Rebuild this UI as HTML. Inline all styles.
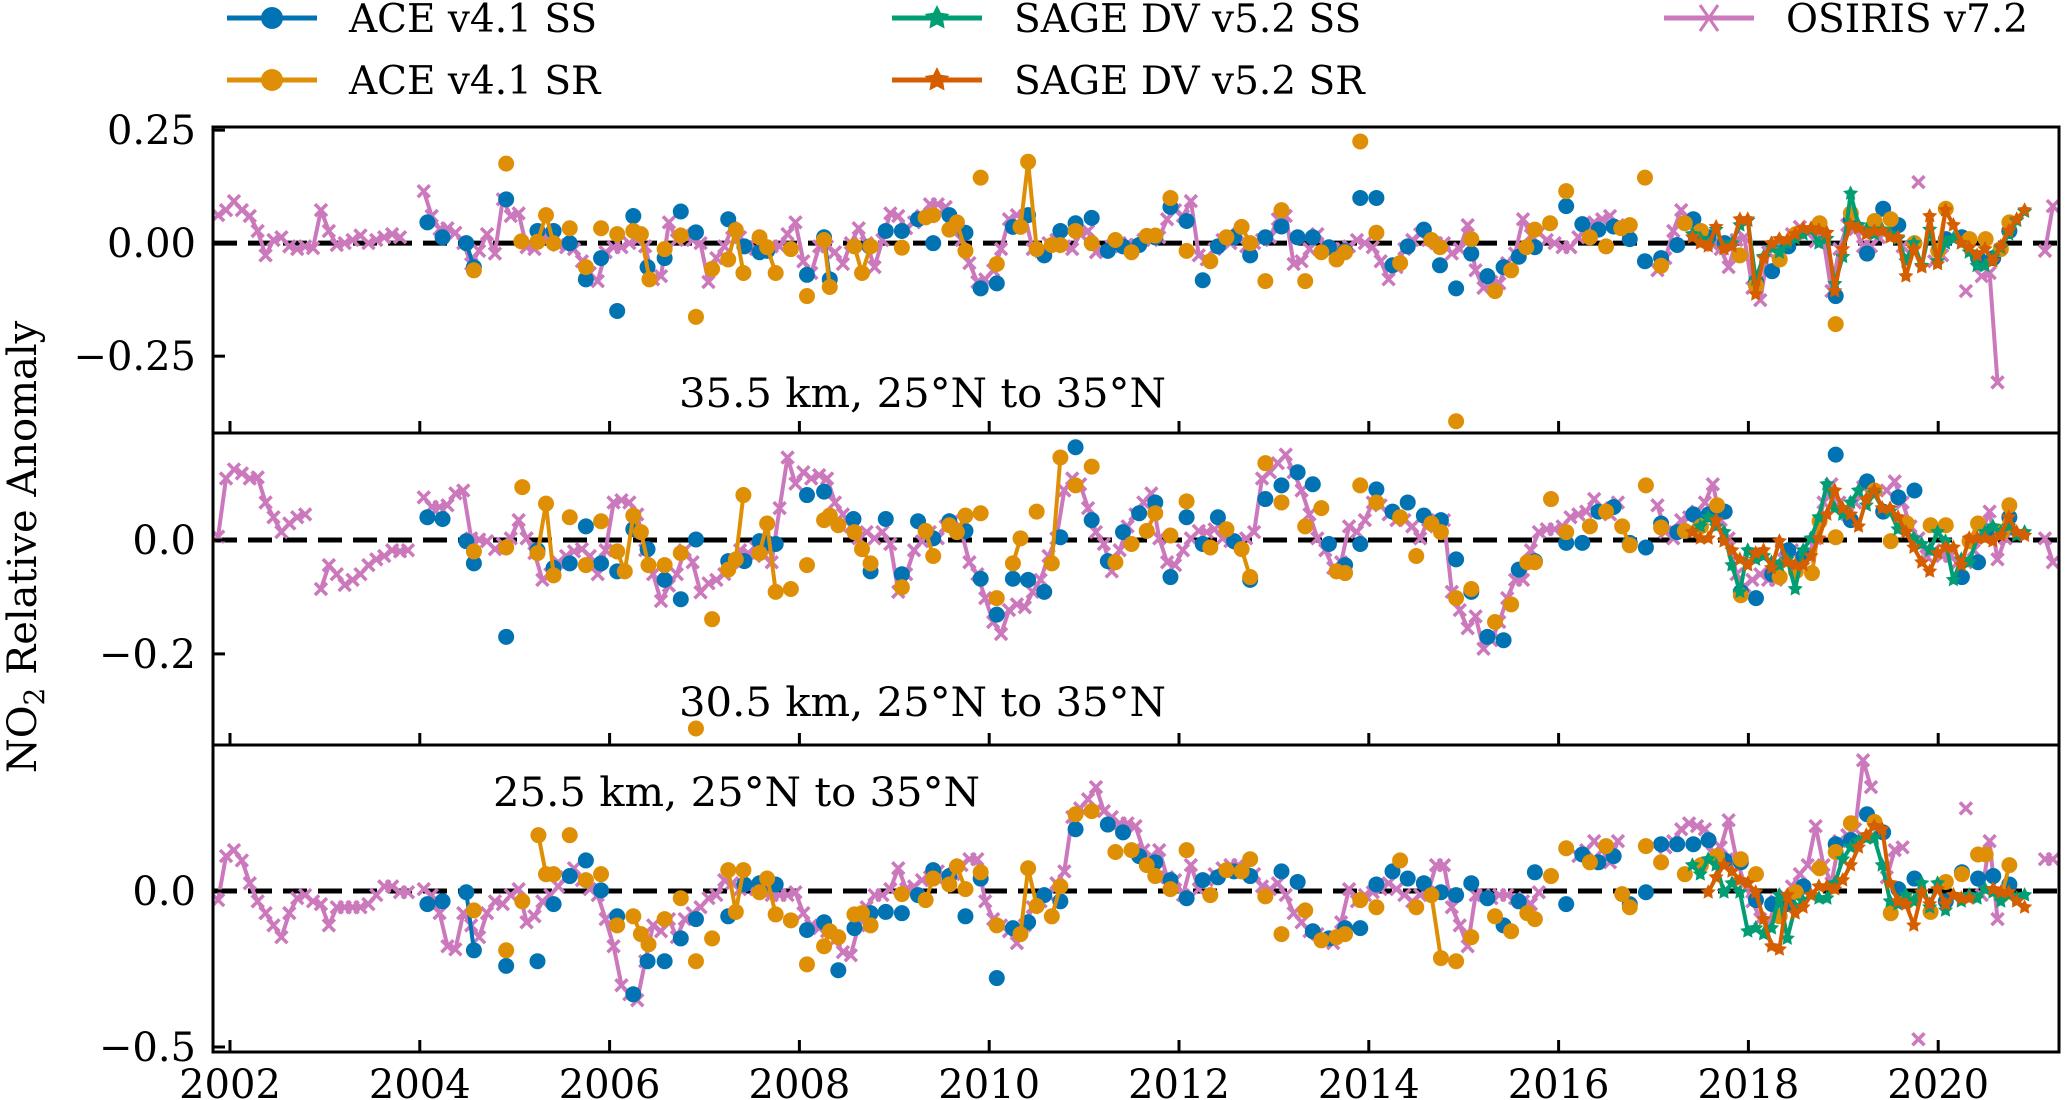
<!DOCTYPE html>
<html><head><meta charset="utf-8"><style>
html,body{margin:0;padding:0;background:#fff;}
svg{display:block;font-family:"DejaVu Serif","Liberation Serif",serif;}
</style></head><body>
<svg id="chart" width="2067" height="1100" viewBox="0 0 2067 1100" xmlns="http://www.w3.org/2000/svg"></svg>
<script>
// ---------- DATA ----------
const xTickYears=[2002,2004,2006,2008,2010,2012,2014,2016,2018,2020];
const p1TickVals=[0.25,0,-0.25];const p1TickLabels=["0.25","0.00","\u22120.25"];
const p2TickVals=[0,-0.2];const p2TickLabels=["0.0","\u22120.2"];
const p3TickVals=[0,-0.5];const p3TickLabels=["0.0","\u22120.5"];
const panelTitles=["35.5 km, 25\u00b0N to 35\u00b0N","30.5 km, 25\u00b0N to 35\u00b0N","25.5 km, 25\u00b0N to 35\u00b0N"];
const osirisStart=2001.875; const sageSSStart=2017.41;
const p1Osiris=[0.062,0.073,0.093,0.073,0.06,0.027,-0.027,0.007,0.013,-0.007,-0.013,-0.007,-0.011,0.073,0.027,-0.004,0,0.007,0.017,0,0.007,0.013,0.02,0.013,null,null,
0.115,0.06,0.031,0.033,0.023,0,-0.046,-0.017,0.02,-0.023,0.097,0.06,0.066,-0.009,-0.013,0.02,0.013,-0.004,-0.009,-0.013,-0.04,-0.066,-0.084,-0.02,-0.009,-0.009,0,0.007,-0.007,-0.08,-0.073,0.046,0.007,0.02,0.007,0,-0.086,-0.033,-0.007,0.033,0.013,-0.007,-0.013,-0.013,-0.007,-0.007,0.02,0.046,-0.04,-0.066,-0.007,
-0.007,-0.02,-0.046,0,0.033,0,-0.053,0.007,0.066,0.06,0.033,0.046,0.06,0.086,0.086,0.08,0.033,0.007,-0.044,-0.086,-0.08,-0.06,-0.013,0.053,0.062,0.06,-0.013,-0.017,0,0.007,-0.007,-0.013,0.02,0.027,-0.02,-0.017,-0.007,0,-0.004,-0.004,0.007,0.007,0.013,0.053,0.073,0.06,0.093,-0.027,-0.036,-0.013,0.007,0,0.02,-0.007,0,0.007,0.013,0.053,0.06,-0.046,-0.04,-0.013,0.02,-0.007,-0.013,-0.013,-0.007,0.007,0,-0.009,-0.04,-0.08,-0.053,-0.013,0.007,0.02,0.007,0,
0,-0.023,-0.013,0.04,-0.06,-0.099,-0.086,-0.089,-0.044,-0.023,0.053,0.017,0.023,0.007,0,-0.009,-0.009,0.013,0.033,0.046,0.053,0.06,0.04,null,null,null,null,-0.06,-0.033,0.027,0.073,0.046,0.02,0.007,-0.004,-0.013,-0.053,0.007,0.013,-0.099,-0.126,-0.02,-0.007,0.007,0.02,0.036,0.023,0.004,0.007,-0.106,-0.013,0.04,0.031,-0.007,-0.007,0.013,0.027,0.02,-0.007,null,0.135,null,-0.04,-0.027,null,null,-0.106,null,-0.073,-0.066,-0.308,null,null,null,null,null,-0.017,0.082];
const p2Osiris=[0.006,0.108,0.124,0.117,0.108,0.110,0.066,0.040,0.014,0.029,0.040,0.045,null,-0.086,-0.044,-0.060,-0.079,-0.070,-0.060,-0.044,-0.034,-0.028,-0.018,-0.020,-0.018,null,
0.075,0.058,0.058,0.061,0.082,0.087,0.003,0.001,-0.002,-0.016,-0.007,0.003,0.035,0.003,-0.023,-0.070,-0.060,-0.039,-0.028,-0.020,-0.016,-0.028,-0.060,-0.018,0.066,0.070,0.066,0.045,-0.018,-0.060,-0.107,-0.080,-0.060,-0.018,-0.039,-0.092,-0.076,-0.070,-0.060,-0.039,-0.018,-0.023,-0.013,-0.028,-0.039,0.056,0.145,0.099,0.119,0.108,0.114,
0.108,0.066,0.045,0.024,0.003,0.014,0.003,0.014,-0.007,-0.091,-0.060,-0.018,-0.002,0.014,0.003,0.024,0.035,0.014,-0.039,-0.060,-0.102,-0.144,-0.165,-0.123,-0.113,-0.118,-0.091,-0.070,-0.028,0.003,0.087,0.108,0.098,0.056,0.014,-0.007,-0.055,-0.018,0.024,0.045,0.066,0.082,0.003,-0.039,-0.044,-0.018,0.003,0.016,0.014,0.019,0.003,-0.002,-0.005,0.003,0.014,0.108,0.119,0.135,0.150,0.119,0.087,0.045,0.003,-0.018,-0.049,-0.039,0.024,0.014,0.035,0.066,0.061,0.045,0.035,0.035,0.024,0.003,0.035,0.024,
0.035,-0.091,-0.123,-0.155,-0.134,-0.191,-0.176,-0.144,-0.102,-0.070,-0.070,-0.018,0.014,0.019,0.019,0.024,0.040,0.045,0.050,0.072,0.056,0.045,0.066,null,null,null,null,0.061,0.014,0.003,0.035,0.040,0.050,0.066,0.098,0.035,0.003,-0.060,-0.081,-0.070,-0.060,-0.070,-0.070,-0.018,-0.018,-0.034,-0.028,0.003,0.066,0.098,0.066,0.045,0.066,0.093,0.087,null,0.087,0.103,0.066,0.024,0.003,-0.028,-0.018,-0.028,-0.028,-0.039,-0.039,-0.018,0.014,0.050,-0.034,0.003,null,null,null,null,0.003,-0.039];
const p3Osiris=[-0.029,0.112,0.131,0.098,0.025,-0.033,-0.071,-0.110,-0.148,-0.071,-0.023,-0.013,-0.033,-0.042,-0.110,-0.052,-0.052,-0.052,-0.052,-0.042,-0.013,0.015,0.015,-0.004,-0.004,null,
0.006,-0.013,-0.071,-0.177,-0.187,-0.071,-0.110,-0.148,-0.071,-0.033,-0.042,-0.013,0.006,-0.100,-0.081,-0.033,-0.013,0.015,0.044,0.073,0.035,0.006,-0.013,-0.090,-0.177,-0.302,-0.331,-0.350,-0.225,-0.110,-0.129,-0.090,-0.148,-0.090,-0.071,-0.052,-0.023,-0.013,0.035,0.025,0.006,0.015,0.006,-0.004,-0.013,-0.013,-0.013,-0.004,-0.071,-0.110,-0.119,
-0.129,-0.158,-0.196,-0.206,-0.110,-0.052,-0.013,-0.013,0.006,0.073,0.006,0.015,0.035,0.044,0.063,0.044,0.054,0.083,0.102,0.102,-0.033,-0.090,-0.110,-0.129,-0.167,-0.110,-0.052,-0.033,-0.013,0.025,0.063,0.237,0.265,0.294,0.333,0.256,0.237,0.217,0.217,0.208,0.131,0.112,0.131,0.044,0.035,-0.013,0.083,0.006,0.035,0.054,0.073,0.083,0.083,0.073,0.054,0.015,0.006,0.025,-0.013,-0.071,-0.100,-0.129,-0.138,-0.158,-0.167,-0.100,0.006,-0.033,-0.013,-0.004,0.006,0.025,0.006,-0.013,-0.033,-0.013,-0.004,0.083,
0.083,-0.052,-0.110,-0.177,-0.013,-0.013,-0.023,-0.013,-0.013,-0.023,-0.033,-0.042,-0.004,null,null,null,null,0.112,0.131,0.160,0.131,0.092,0.160,null,null,null,null,null,0.140,0.160,0.198,0.217,0.208,0.198,0.121,0.140,0.227,0.102,0.025,-0.033,-0.090,-0.110,-0.033,-0.013,0.015,0.054,0.083,0.208,0.083,0.025,0.160,0.179,0.198,0.419,0.333,null,0.044,0.131,0.140,null,-0.475,null,null,null,null,null,0.265,null,-0.013,0.160,-0.090,null,null,null,null,null,0.102,0.102];

const p1AceSSt=[2004.08,2004.24,2004.49,2004.57,2004.91,2005.24,2005.41,2005.58,2005.75,2005.91,2006.08,2006.25,2006.40,2006.58,2006.75,2006.91,2007.25,2007.42,2007.58,2007.66,2008.08,2008.26,2008.32,2008.74,2008.91,2009.08,2009.25,2009.41,2009.58,2009.75,2009.91,2010.08,2010.25,2010.41,2010.58,2010.75,2010.91,2011.08,2011.25,2011.41,2011.58,2011.75,2011.91,2012.08,2012.25,2012.41,2012.58,2012.75,2012.91,2013.08,2013.25,2013.41,2013.58,2013.75,2013.91,2014.08,2014.25,2014.41,2014.58,2014.75,2014.92,2015.08,2015.25,2015.42,2015.58,2015.75,2016.08,2016.25,2016.42,2016.58,2016.75,2016.91,2017.08,2017.25,2017.42,2017.58,2017.75,2018.08,2018.25,2018.42,2018.92,2019.08,2019.25,2019.42,2019.58,2020.08,2020.25,2020.42,2020.58,2020.75];
const p1AceSSv=[0.046,0.013,0.0,-0.053,0.097,0.027,0.027,0.0,-0.08,-0.033,-0.15,0.06,-0.053,-0.033,0.07,0.024,0.053,-0.007,-0.02,-0.017,-0.07,0.013,-0.08,-0.007,0.027,0.027,0.053,0.0,0.062,0.023,-0.1,-0.089,0.036,0.062,-0.027,0.027,0.044,0.056,-0.017,-0.007,-0.004,0.013,0.08,0.049,-0.082,-0.007,0.013,-0.027,0.013,0.037,0.013,0.013,-0.009,-0.017,0.10,0.10,-0.049,-0.007,0.03,-0.049,-0.1,-0.023,-0.073,-0.053,-0.03,-0.009,0.082,0.042,0.03,0.037,0.009,-0.04,-0.033,-0.004,0.053,0.013,0.0,-0.086,-0.062,-0.007,-0.117,0.053,-0.023,0.076,0.04,0.009,0.013,-0.033,-0.033,0.027];
const p1AceSRt=[2004.57,2004.91,2005.07,2005.24,2005.33,2005.41,2005.58,2005.75,2005.91,2006.08,2006.25,2006.33,2006.42,2006.58,2006.75,2006.91,2007.08,2007.25,2007.33,2007.41,2007.58,2007.66,2007.75,2007.91,2008.08,2008.26,2008.32,2008.58,2008.66,2008.75,2009.08,2009.33,2009.41,2009.58,2009.66,2009.75,2009.91,2010.08,2010.33,2010.41,2010.5,2010.66,2010.75,2010.91,2011.08,2011.33,2011.5,2011.66,2011.75,2011.91,2012.08,2012.33,2012.5,2012.66,2012.75,2012.91,2013.08,2013.33,2013.5,2013.66,2013.75,2013.91,2014.08,2014.33,2014.66,2014.75,2014.92,2015.08,2015.33,2015.5,2015.66,2015.75,2015.91,2016.08,2016.33,2016.5,2016.66,2016.75,2016.91,2017.08,2017.33,2017.5,2017.91,2018.08,2018.33,2018.5,2018.75,2018.92,2019.08,2019.33,2019.5,2019.75,2020.0,2020.08,2020.33,2020.5,2020.66,2020.75];
const p1AceSRv=[-0.06,0.176,0.004,0.003,0.062,0.0,0.033,-0.053,0.033,0.02,0.027,0.02,-0.08,-0.013,0.017,-0.163,-0.057,-0.036,0.029,-0.066,0.013,-0.009,-0.066,-0.013,-0.117,0.007,-0.097,-0.007,-0.066,-0.007,-0.01,0.057,0.062,0.03,0.046,-0.017,0.145,-0.046,0.036,0.18,-0.013,-0.004,-0.004,0.027,0.0,0.007,-0.02,0.016,0.017,0.10,-0.017,-0.04,0.013,0.036,0.0,-0.084,0.073,-0.084,-0.02,-0.036,-0.02,0.225,0.023,-0.044,0.007,-0.009,-0.394,0.009,-0.106,-0.06,-0.009,0.03,0.044,0.115,0.013,-0.007,0.033,0.04,0.145,-0.05,0.044,0.027,-0.027,-0.093,-0.036,0.02,0.044,-0.179,0.066,0.049,0.053,0.0,-0.017,0.076,0.009,0.009,-0.013,0.046];
const p1SageSS=[0.02,0.01,0.0,0.03,-0.01,0.0,0.04,0.05,-0.08,-0.03,-0.01,-0.02,0.0,0.01,0.02,0.03,0.0,0.01,-0.09,-0.03,0.11,0.04,0.03,0.02,0.03,0.02,0.01,-0.04,0.0,-0.05,0.03,-0.04,0.0,0.01,0.0,-0.02,-0.05,-0.05,-0.03,-0.01,0.02,0.05,0.07];
const p1SageSR=[0.013,0.0,-0.007,0.036,-0.013,-0.007,0.053,0.053,-0.113,-0.033,0.0,0.009,0.007,0.02,0.033,0.033,0.029,0.023,-0.106,-0.013,0.04,0.033,0.02,0.027,0.027,0.013,0.013,-0.073,-0.013,-0.053,0.06,-0.046,0.073,0.04,0.0,-0.01,-0.027,-0.013,-0.04,-0.007,0.027,0.053,0.073];

const p2AceSSt=[2004.08,2004.24,2004.49,2004.57,2004.91,2005.24,2005.41,2005.58,2005.75,2005.91,2006.08,2006.25,2006.4,2006.58,2006.75,2006.91,2007.25,2007.42,2007.58,2007.66,2007.75,2008.08,2008.26,2008.57,2008.75,2008.91,2009.08,2009.25,2009.41,2009.58,2009.75,2009.91,2010.08,2010.25,2010.41,2010.58,2010.75,2010.91,2011.08,2011.25,2011.41,2011.58,2011.75,2011.91,2012.08,2012.25,2012.41,2012.58,2012.75,2012.91,2013.08,2013.25,2013.41,2013.58,2013.75,2013.91,2014.08,2014.25,2014.41,2014.58,2014.76,2014.92,2015.08,2015.25,2015.42,2015.58,2015.75,2016.08,2016.25,2016.42,2016.58,2016.75,2016.92,2017.08,2017.25,2017.42,2017.58,2017.75,2017.92,2018.08,2018.25,2018.42,2018.58,2018.92,2019.08,2019.25,2019.42,2019.58,2019.75,2020.25,2020.42,2020.58,2020.75];
const p2AceSSv=[0.040,0.037,-0.002,-0.041,-0.170,-0.018,-0.049,-0.041,0.024,-0.041,-0.055,0.019,-0.016,-0.070,-0.104,0.001,-0.037,-0.037,-0.002,-0.005,-0.007,0.079,0.085,0.037,-0.055,0.037,-0.060,0.033,0.003,0.033,0.016,-0.068,-0.131,-0.068,-0.070,-0.091,0.005,0.163,0.035,-0.037,0.014,0.047,0.066,-0.065,0.040,-0.007,0.040,-0.002,-0.070,0.072,0.096,0.119,0.098,-0.007,-0.044,-0.007,0.089,0.050,0.066,0.043,0.035,-0.034,-0.091,-0.170,-0.176,-0.052,-0.037,-0.005,-0.005,0.050,0.058,-0.005,-0.013,0.029,0.014,0.045,0.045,0.050,-0.091,-0.102,-0.060,-0.018,-0.028,0.150,0.035,0.103,0.050,0.075,0.087,-0.065,-0.039,0.016,0.040];
const p2AceSRt=[2004.57,2004.91,2005.08,2005.24,2005.33,2005.41,2005.58,2005.75,2005.91,2006.08,2006.16,2006.25,2006.33,2006.41,2006.58,2006.75,2006.91,2007.08,2007.25,2007.33,2007.41,2007.58,2007.66,2007.75,2007.91,2008.08,2008.26,2008.32,2008.41,2008.58,2008.66,2008.75,2009.08,2009.33,2009.41,2009.58,2009.66,2009.75,2009.91,2010.08,2010.25,2010.33,2010.5,2010.66,2010.75,2010.91,2011.08,2011.33,2011.5,2011.66,2011.75,2011.91,2012.08,2012.33,2012.5,2012.66,2012.75,2012.91,2013.08,2013.33,2013.5,2013.66,2013.75,2013.91,2014.08,2014.33,2014.5,2014.66,2014.76,2014.92,2015.08,2015.33,2015.5,2015.67,2015.75,2015.92,2016.08,2016.33,2016.5,2016.67,2016.75,2016.92,2017.08,2017.33,2017.5,2017.67,2017.92,2018.33,2018.5,2018.67,2018.75,2018.92,2019.33,2019.5,2019.67,2019.92,2020.08,2020.33,2020.42,2020.67,2020.75];
const p2AceSRv=[-0.020,-0.013,0.093,-0.023,0.064,-0.062,0.040,-0.044,0.033,-0.020,-0.055,0.043,0.014,-0.044,-0.044,-0.023,-0.331,-0.139,-0.052,-0.034,0.079,-0.023,0.029,-0.091,-0.086,-0.044,0.035,0.043,0.026,0.014,-0.016,-0.041,-0.083,0.016,-0.028,0.026,0.014,0.043,0.047,-0.102,-0.041,0.003,0.050,-0.041,0.145,0.096,0.129,-0.039,-0.007,0.016,0.047,0.008,0.068,-0.013,0.019,-0.016,-0.065,0.135,0.066,0.024,0.056,-0.055,-0.058,0.096,0.066,0.040,-0.028,0.029,0.014,-0.102,-0.086,-0.144,-0.113,-0.039,-0.039,0.072,0.014,0.024,0.050,0.024,-0.009,0.096,0.022,0.016,0.024,0.061,-0.097,-0.065,-0.055,-0.058,0.033,0.005,0.087,-0.002,0.029,0.026,0.026,-0.002,0.029,0.014,0.061];
const p2SageSS=[0.014,0.024,0.040,0.024,0.014,-0.044,-0.091,-0.018,-0.034,-0.028,-0.039,-0.044,-0.034,-0.086,-0.018,0.003,0.040,0.098,0.056,0.045,0.066,0.087,0.061,0.082,0.056,0.050,0.019,0.014,0.003,-0.007,-0.018,0.014,-0.002,-0.070,-0.034,-0.039,0.003,0.014,0.024,0.014,0.024,0.008,0.014];
const p2SageSR=[0.014,0.003,0.003,0.035,-0.002,-0.018,-0.034,-0.044,-0.023,-0.018,-0.049,-0.002,-0.039,-0.044,-0.044,-0.028,0.003,0.045,0.087,0.056,0.045,0.024,0.072,0.087,0.056,0.056,0.040,0.014,-0.013,-0.039,-0.055,-0.023,-0.013,-0.013,-0.044,0.003,0.003,0.003,-0.002,0.008,0.040,0.014,0.008];

const p3AceSSt=[2004.08,2004.24,2004.49,2004.57,2004.91,2005.24,2005.41,2005.58,2005.75,2005.91,2006.08,2006.25,2006.4,2006.58,2006.75,2006.91,2007.25,2007.42,2007.58,2007.66,2007.75,2008.08,2008.26,2008.41,2008.58,2008.75,2008.91,2009.08,2009.25,2009.41,2009.58,2009.75,2009.91,2010.08,2010.25,2010.41,2010.58,2010.75,2010.91,2011.25,2011.41,2011.58,2011.75,2011.91,2012.08,2012.25,2012.41,2012.58,2012.75,2013.08,2013.25,2013.41,2013.58,2013.75,2013.91,2014.08,2014.25,2014.41,2014.58,2014.76,2014.92,2015.08,2015.25,2015.42,2015.58,2015.75,2016.08,2016.25,2016.42,2016.58,2016.75,2016.92,2017.08,2017.25,2017.42,2017.58,2017.75,2017.92,2018.08,2018.25,2018.42,2018.58,2018.92,2019.08,2019.25,2019.42,2019.58,2019.75,2020.08,2020.25,2020.42,2020.58,2020.75];
const p3AceSSv=[-0.042,-0.033,-0.004,-0.190,-0.240,-0.225,-0.042,0.048,0.098,0.002,-0.081,-0.331,-0.225,-0.225,-0.152,-0.090,-0.081,0.021,0.025,0.025,0.021,-0.125,-0.100,-0.254,-0.119,-0.071,-0.067,-0.071,-0.013,0.067,0.048,-0.081,0.040,-0.279,-0.119,-0.100,-0.013,-0.033,0.198,0.213,0.188,0.112,0.092,0.035,-0.023,0.035,0.044,0.063,0.048,0.063,0.029,-0.129,-0.152,-0.119,-0.119,0.021,0.063,0.040,0.025,-0.004,-0.013,0.025,-0.023,-0.110,-0.033,0.060,-0.042,0.117,0.092,0.112,-0.042,-0.004,0.150,0.150,0.150,0.163,0.098,0.092,-0.029,-0.042,-0.042,0.015,0.150,0.163,0.246,0.188,0.006,0.040,-0.033,0.060,0.040,0.048,0.021];
const p3AceSRt=[2004.57,2004.91,2005.08,2005.25,2005.33,2005.41,2005.58,2005.75,2005.91,2006.08,2006.25,2006.33,2006.41,2006.58,2006.75,2006.91,2007.08,2007.25,2007.33,2007.41,2007.58,2007.66,2007.75,2007.91,2008.08,2008.26,2008.32,2008.41,2008.58,2008.66,2008.75,2009.08,2009.33,2009.41,2009.58,2009.66,2009.75,2009.91,2010.08,2010.33,2010.41,2010.5,2010.66,2010.75,2010.91,2011.08,2011.33,2011.5,2011.66,2011.75,2011.91,2012.08,2012.33,2012.5,2012.66,2012.75,2012.91,2013.08,2013.33,2013.5,2013.66,2013.75,2013.91,2014.08,2014.33,2014.5,2014.66,2014.76,2014.92,2015.08,2015.33,2015.5,2015.67,2015.75,2015.92,2016.08,2016.33,2016.5,2016.67,2016.75,2016.92,2017.08,2017.33,2017.5,2017.67,2017.92,2018.08,2018.33,2018.5,2018.75,2018.92,2019.08,2019.33,2019.5,2019.67,2019.92,2020.08,2020.25,2020.42,2020.5,2020.67,2020.75];
const p3AceSRv=[-0.062,-0.190,-0.033,0.179,0.054,0.054,0.179,0.035,0.054,-0.110,-0.081,-0.138,-0.171,-0.090,-0.023,-0.225,-0.152,0.067,-0.067,0.067,-0.004,0.040,-0.075,-0.094,-0.235,-0.177,-0.129,-0.148,-0.075,-0.071,-0.110,-0.010,-0.029,0.040,0.021,0.079,0.006,0.060,-0.110,-0.138,0.073,-0.048,-0.081,0.015,0.246,0.256,0.125,0.131,0.083,0.048,0.006,0.131,-0.013,0.067,0.063,0.102,-0.017,-0.138,-0.062,-0.158,-0.148,-0.138,-0.029,-0.052,0.098,-0.052,-0.013,-0.215,-0.225,-0.148,-0.081,-0.129,-0.071,-0.090,0.048,0.137,0.092,0.144,-0.010,-0.052,0.144,0.092,0.054,0.083,0.112,0.102,0.054,-0.081,-0.004,0.073,0.125,0.217,0.221,-0.071,-0.033,-0.067,0.029,0.054,0.117,0.117,-0.013,0.083];
const p3SageSS=[0.083,0.054,0.102,0.083,-0.004,0.025,-0.004,-0.129,-0.119,-0.138,-0.119,-0.013,-0.152,-0.052,-0.033,-0.013,-0.023,-0.023,0.025,0.102,0.140,0.160,0.169,0.169,0.083,-0.033,-0.042,-0.013,-0.033,0.025,-0.052,0.025,-0.062,-0.013,-0.033,-0.013,-0.023,0.006,-0.004,-0.033,-0.013,-0.023,-0.013];
const p3SageSR=[null,null,-0.004,0.044,0.083,0.063,0.035,0.025,-0.004,-0.090,-0.177,-0.187,-0.013,-0.071,-0.052,-0.013,0.015,0.015,0.006,0.035,0.083,0.140,0.179,0.208,0.198,0.025,-0.033,-0.042,-0.110,-0.004,-0.042,0.006,-0.042,-0.013,-0.023,-0.023,null,null,0.006,-0.004,-0.004,-0.033,-0.052];

// ---------- RENDER ----------
const NS="http://www.w3.org/2000/svg";
const svg=document.getElementById("chart");
const C={ss:"#0173b2",sr:"#de8f05",sgss:"#029e73",sgsr:"#d55e00",os:"#cc78bc"};
function el(tag,attrs,parent){const e=document.createElementNS(NS,tag);for(const k in attrs)e.setAttribute(k,attrs[k]);(parent||svg).appendChild(e);return e;}
function xs(t){return 230+(t-2002)*94.9;}
const L=213,R=2059;
const panels=[
 {top:127,bot:433,ymin:-0.42,ymax:0.257,tv:p1TickVals,tl:p1TickLabels,os:p1Osiris,sst:p1AceSSt,ssv:p1AceSSv,srt:p1AceSRt,srv:p1AceSRv,gss:p1SageSS,gsr:p1SageSR,tx:679,ty:407},
 {top:433,bot:745,ymin:-0.36,ymax:0.188,tv:p2TickVals,tl:p2TickLabels,os:p2Osiris,sst:p2AceSSt,ssv:p2AceSSv,srt:p2AceSRt,srv:p2AceSRv,gss:p2SageSS,gsr:p2SageSR,tx:679,ty:716},
 {top:745,bot:1052,ymin:-0.516,ymax:0.468,tv:p3TickVals,tl:p3TickLabels,os:p3Osiris,sst:p3AceSSt,ssv:p3AceSSv,srt:p3AceSRt,srv:p3AceSRv,gss:p3SageSS,gsr:p3SageSR,tx:493,ty:806}
];
function starPts(cx,cy,r){let s="";for(let i=0;i<10;i++){const a=-Math.PI/2+i*Math.PI/5;const rr=i%2?r*0.5:r;s+=(cx+rr*Math.cos(a)).toFixed(1)+","+(cy+rr*Math.sin(a)).toFixed(1)+" ";}return s;}
function drawSeries(g,ts,vs,ys,color,marker,name,gap){
 let path="",prev=null;
 for(let i=0;i<ts.length;i++){if(vs[i]===null||vs[i]===undefined){prev=null;continue;}
  const x=xs(ts[i]),y=ys(vs[i]);
  if(prev!==null&&ts[i]-prev<gap)path+="L"+x.toFixed(1)+","+y.toFixed(1);else path+="M"+x.toFixed(1)+","+y.toFixed(1);
  prev=ts[i];}
 const ln=el("path",{d:path,fill:"none",stroke:color,"stroke-width":4,"stroke-linejoin":"round"},g);
 
 
 for(let i=0;i<ts.length;i++){if(vs[i]===null||vs[i]===undefined)continue;
  const x=xs(ts[i]),y=ys(vs[i]);let m;
  if(marker==="o"){m=el("circle",{cx:x,cy:y,r:8,fill:color},g);}
  else if(marker==="*"){m=el("polygon",{points:starPts(x,y,8),fill:color},g);}
  else {m=el("path",{d:`M${x-6},${y-6}L${x+6},${y+6}M${x-6},${y+6}L${x+6},${y-6}`,stroke:color,"stroke-width":3.5,fill:"none"},g);}
  
  }
}
function monthly(start,n){const a=[];for(let i=0;i<n;i++)a.push(start+i/12);return a;}
panels.forEach((p,pi)=>{
 const ys=v=>p.top+(p.ymax-v)/(p.ymax-p.ymin)*(p.bot-p.top);
 const g=el("g",{});
 
 
 const cp=el("clipPath",{id:"clip"+pi},g);el("rect",{x:L,y:p.top,width:R-L,height:p.bot-p.top},cp);
 const zl=el("line",{x1:L,x2:R,y1:ys(0),y2:ys(0),stroke:"#000","stroke-width":5,"stroke-dasharray":"24,11"},g);
 
 
 const dg=el("g",{"clip-path":`url(#clip${pi})`},g);
 
 
 drawSeries(dg,monthly(osirisStart,p.os.length),p.os,ys,C.os,"x","osiris-v7-2",0.12);
 drawSeries(dg,p.sst,p.ssv,ys,C.ss,"o","ace-v4-1-ss",0.12);
 drawSeries(dg,p.srt,p.srv,ys,C.sr,"o","ace-v4-1-sr",0.12);
 drawSeries(dg,monthly(sageSSStart,p.gss.length),p.gss,ys,C.sgss,"*","sage-dv-v5-2-ss",0.12);
 drawSeries(dg,monthly(sageSSStart,p.gsr.length),p.gsr,ys,C.sgsr,"*","sage-dv-v5-2-sr",0.12);
 const fr=el("rect",{x:L,y:p.top,width:R-L,height:p.bot-p.top,fill:"none",stroke:"#000","stroke-width":3},g);
 
 
 p.tv.forEach((v,i)=>{const y=ys(v);
  const t=el("line",{x1:L,x2:L+12,y1:y,y2:y,stroke:"#000","stroke-width":3},g);
  
  
  const tx=el("text",{x:196,y:y+14,"text-anchor":"end","font-size":40,fill:"#000"},g);tx.textContent=p.tl[i];
  
  });
 xTickYears.forEach(yr=>{const x=xs(yr);
  const t=el("line",{x1:x,x2:x,y1:p.bot,y2:p.bot-12,stroke:"#000","stroke-width":3},g);
  
  });
 const tt=el("text",{x:p.tx,y:p.ty,"font-size":40,fill:"#000",textLength:487,lengthAdjust:"spacingAndGlyphs"},g);tt.textContent=panelTitles[pi];
 
 
});
xTickYears.forEach(yr=>{const t=el("text",{x:xs(yr),y:1098,"text-anchor":"middle","font-size":40,fill:"#000"});t.textContent=String(yr);
 
 });
const yl=el("text",{x:0,y:0,transform:"translate(36,547) rotate(-90)","text-anchor":"middle","font-size":40,fill:"#000"});


yl.innerHTML='NO<tspan font-size="28" dy="8">2</tspan><tspan dy="-8"> Relative Anomaly</tspan>';
// legend
const legendItems=[["ACE v4.1 SS",C.ss,"o",227,18],["ACE v4.1 SR",C.sr,"o",227,80],["SAGE DV v5.2 SS",C.sgss,"*",892,18],["SAGE DV v5.2 SR",C.sgsr,"*",892,80],["OSIRIS v7.2",C.os,"x",1664,18]];
const lg=el("g",{});


legendItems.forEach(it=>{const [lab,col,mk,x,y]=it;
 const g=el("g",{},lg);
 
 
 el("line",{x1:x,x2:x+90,y1:y,y2:y,stroke:col,"stroke-width":5},g);
 const cx=x+45;
 if(mk==="o")el("circle",{cx:cx,cy:y,r:11,fill:col},g);
 else if(mk==="*")el("polygon",{points:starPts(cx,y,13),fill:col},g);
 else el("path",{d:`M${cx-9},${y-13}L${cx+9},${y+13}M${cx-9},${y+13}L${cx+9},${y-13}`,stroke:col,"stroke-width":3,fill:"none"},g);
 const t=el("text",{x:x+122,y:y+14,"font-size":39,fill:"#000"},g);t.textContent=lab;});
</script>
</body></html>
